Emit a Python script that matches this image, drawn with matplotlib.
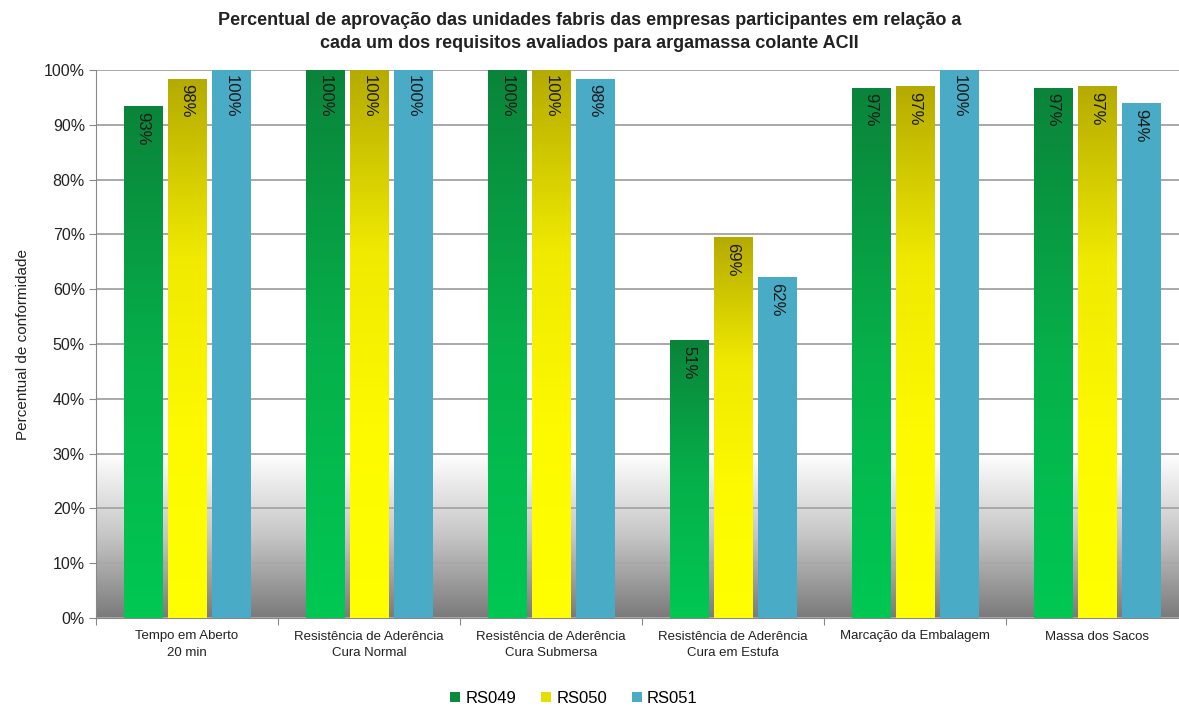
import numpy as np
import matplotlib
matplotlib.use("Agg")
import matplotlib.pyplot as plt
from matplotlib.colors import LinearSegmentedColormap
from matplotlib.patches import Patch

plt.rcParams['font.family'] = ['Liberation Sans', 'DejaVu Sans']

categories = ["Tempo em Aberto\n20 min",
              "Resistência de Aderência\nCura Normal",
              "Resistência de Aderência\nCura Submersa",
              "Resistência de Aderência\nCura em Estufa",
              "Marcação da Embalagem",
              "Massa dos Sacos"]
series = ["RS049", "RS050", "RS051"]
rs049 = [93.3, 100, 100, 50.6, 96.7, 96.7]
rs050 = [98.3, 100, 100, 69.4, 96.9, 96.9]
rs051 = [100, 100, 98.3, 62.1, 100, 93.8]
values = [rs049, rs050, rs051]

# gradients (bottom -> top)
cmaps = [
    LinearSegmentedColormap.from_list("g", ["#00c853", "#06b04a", "#0a843a"]),
    LinearSegmentedColormap.from_list("y", ["#ffff00", "#fdfa00", "#f0ea00", "#b5ab00"]),
    LinearSegmentedColormap.from_list("b", ["#4aabc6", "#4aabc6"]),
]
legend_colors = ["#0b8a3c", "#e6e000", "#4aabc6"]

fig = plt.figure(figsize=(11.79, 7.07), dpi=100)
ax = fig.add_axes([96 / 1179, 89 / 707, 1092 / 1179, 548 / 707])

x = np.arange(len(categories))
offsets = [-0.242, 0.0, 0.242]
width = 0.209
grad = np.linspace(0, 1, 256).reshape(-1, 1)

for i in range(3):
    for j, v in enumerate(values[i]):
        x0 = x[j] + offsets[i] - width / 2
        ax.imshow(grad, cmap=cmaps[i], aspect='auto', origin='lower',
                  extent=[x0, x0 + width, 0, v], zorder=3)
        ax.text(x[j] + offsets[i], v - 0.9, f"{v:.0f}%", rotation=270,
                ha='center', va='top', fontsize=12, color='#1a1a1a', zorder=4)

# background gradient below 30%
bg = LinearSegmentedColormap.from_list("bg", ["#7a7a7a", "#c6c6c6", "#ffffff"])
ax.imshow(grad, cmap=bg, aspect='auto', origin='lower',
          extent=[-0.5, 5.5, 0, 30], zorder=0)

ax.set_xlim(-0.5, 5.5)
ax.set_ylim(0, 100)
ax.set_yticks(np.arange(0, 101, 10))
ax.set_yticklabels([f"{t}%" for t in range(0, 101, 10)], fontsize=11.5, color='#222222')
ax.yaxis.grid(True, color='#a8a8a8', linewidth=1.4, zorder=1)
ax.set_axisbelow(True)

# single-line labels padded so they sit on the first line
xlabels = [c if "\n" in c else c + "\n " for c in categories]
ax.set_xticks(np.arange(-0.5, 6.0, 1.0))
ax.set_xticklabels([])
ax.set_xticks(x, minor=True)
ax.set_xticklabels(xlabels, minor=True, fontsize=9.5, color='#222222', linespacing=1.55)
ax.tick_params(axis='x', which='minor', length=0, pad=9)
ax.tick_params(axis='x', which='major', length=5, color='#888888')
ax.tick_params(axis='y', length=5, color='#888888', pad=3)

for s in ['top', 'right']:
    ax.spines[s].set_visible(False)
ax.spines['left'].set_color('#888888')
ax.spines['bottom'].set_color('#888888')

ax.set_ylabel("Percentual de conformidade", fontsize=11, color='#222222', labelpad=10)

fig.text(0.5, 0.955, "Percentual de aprovação das unidades fabris das empresas participantes em relação a\n"
         "cada um dos requisitos avaliados para argamassa colante ACII",
         ha='center', va='center', fontsize=13, fontweight='bold', color='#222222',
         linespacing=1.45)

handles = [Patch(facecolor=c, edgecolor='none') for c in legend_colors]
fig.legend(handles, series, loc='center', bbox_to_anchor=(0.487, 0.012), ncol=3,
           frameon=False, fontsize=12, handlelength=0.6, handleheight=0.6,
           handletextpad=0.3, columnspacing=1.5)

fig.savefig("out.png", dpi=100)
